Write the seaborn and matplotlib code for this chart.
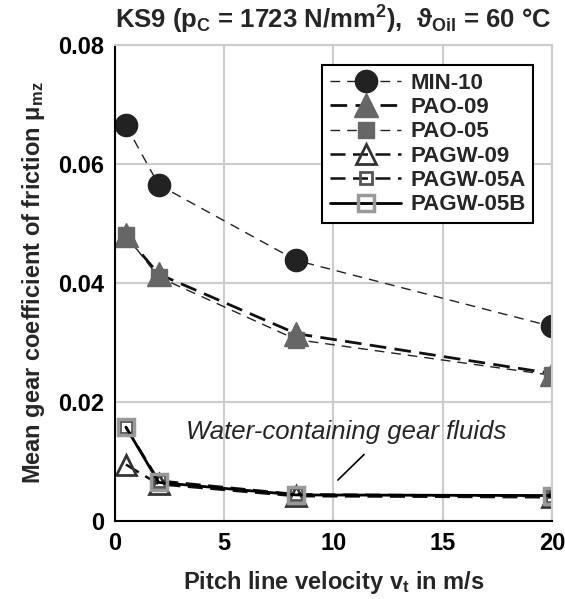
import matplotlib
matplotlib.use("Agg")
import matplotlib.pyplot as plt
import seaborn as sns
import pandas as pd

x = [0.5, 2.0, 8.3, 20.0]
series_names = ["MIN-10", "PAO-09", "PAO-05", "PAGW-09", "PAGW-05A", "PAGW-05B"]
min10 = [0.0665, 0.0565, 0.0438, 0.0327]
pao09 = [0.0480, 0.0415, 0.0315, 0.0248]
pao05 = [0.0480, 0.0410, 0.0305, 0.0245]
pagw09 = [0.0095, 0.0062, 0.0042, 0.0040]
pagw05a = [0.0158, 0.0068, 0.0045, 0.0042]
pagw05b = [0.0158, 0.0065, 0.0044, 0.0043]
values = [min10, pao09, pao05, pagw09, pagw05a, pagw05b]
xticks = [0, 5, 10, 15, 20]
yticks = [0, 0.02, 0.04, 0.06, 0.08]
yticklabels = ["0", "0.02", "0.04", "0.06", "0.08"]

sns.set_style("white")
plt.rcParams['font.family'] = ['Liberation Sans', 'DejaVu Sans']
plt.rcParams['mathtext.fontset'] = 'custom'
plt.rcParams['mathtext.rm'] = 'Liberation Sans:bold'
plt.rcParams['mathtext.it'] = 'Liberation Sans:bold'
plt.rcParams['mathtext.bf'] = 'Liberation Sans:bold'
plt.rcParams['mathtext.default'] = 'bf'

rows = []
for name, vals in zip(series_names, values):
    for xi, yi in zip(x, vals):
        rows.append({"v": xi, "mu": yi, "fluid": name})
df = pd.DataFrame(rows)

styles = {
    "MIN-10":   dict(color="#222222", lw=1.0, ls=(0, (7, 5)), marker="o", ms=16, mfc="#222222", mec="#222222", mew=1),
    "PAO-09":   dict(color="#111111", lw=2.0, ls=(0, (6, 3)), marker="^", ms=17, mfc="#666666", mec="#666666", mew=1),
    "PAO-05":   dict(color="#222222", lw=1.0, ls=(0, (7, 5)), marker="s", ms=12, mfc="#666666", mec="#666666", mew=1),
    "PAGW-09":  dict(color="#111111", lw=1.8, ls=(0, (6, 3)), marker="^", ms=15, mfc="none", mec="#333333", mew=2),
    "PAGW-05A": dict(color="#111111", lw=1.8, ls=(0, (6, 3)), marker="s", ms=9, mfc="none", mec="#555555", mew=2),
    "PAGW-05B": dict(color="#000000", lw=2.0, ls="-", marker="s", ms=12, mfc="none", mec="#999999", mew=2.5),
}

fig = plt.figure(figsize=(5.65, 5.99), dpi=100)
ax = fig.add_axes([0.2035, 0.130, 0.7735, 0.795])

for name in series_names:
    st = styles[name]
    sub = df[df["fluid"] == name]
    sns.lineplot(data=sub, x="v", y="mu", ax=ax, label=name, color=st["color"],
                 linewidth=st["lw"], marker=st["marker"],
                 markersize=st["ms"], markerfacecolor=st["mfc"], markeredgecolor=st["mec"],
                 markeredgewidth=st["mew"])
    ax.lines[-1].set_linestyle(st["ls"])

ax.set_xlim(0, 20)
ax.set_ylim(0, 0.08)
ax.set_xticks(xticks)
ax.set_yticks(yticks)
ax.set_yticklabels(yticklabels)
ax.grid(True, color="#cccccc", lw=1.5)
ax.set_axisbelow(True)
for s in ["top", "right"]:
    ax.spines[s].set_color("#cccccc")
    ax.spines[s].set_linewidth(1.5)
for s in ["left", "bottom"]:
    ax.spines[s].set_color("black")
    ax.spines[s].set_linewidth(1.5)
ax.tick_params(direction="in", length=5, width=1.5, labelsize=17, colors="black", pad=8)
for lab in ax.get_xticklabels() + ax.get_yticklabels():
    lab.set_fontweight("bold")

ax.set_xlabel("Pitch line velocity v$_t$ in m/s", fontsize=17, fontweight="bold", labelpad=10)
ax.set_ylabel("Mean gear coefficient of friction μ$_{mz}$", fontsize=17, fontweight="bold", labelpad=8)
ax.set_title("KS9 (p$_C$ = 1723 N/mm$^2$),  $\\vartheta_{Oil}$ = 60 °C", fontsize=18.5, fontweight="bold", pad=12)

ax.text(10.6, 0.0150, "Water-containing gear fluids", fontsize=18.5, style="italic", ha="center", va="center")
ax.plot([10.2, 11.4], [0.0069, 0.0112], color="black", lw=1.2)

leg = ax.legend(loc="upper right", bbox_to_anchor=(0.957, 0.958), borderaxespad=0, frameon=True, fancybox=False,
                edgecolor="black", framealpha=1, prop={"weight": "bold", "size": 16},
                handlelength=3.2, labelspacing=0.15, borderpad=0.35, handletextpad=0.4)
leg.get_frame().set_linewidth(1.5)

fig.savefig("out.png", dpi=100)
